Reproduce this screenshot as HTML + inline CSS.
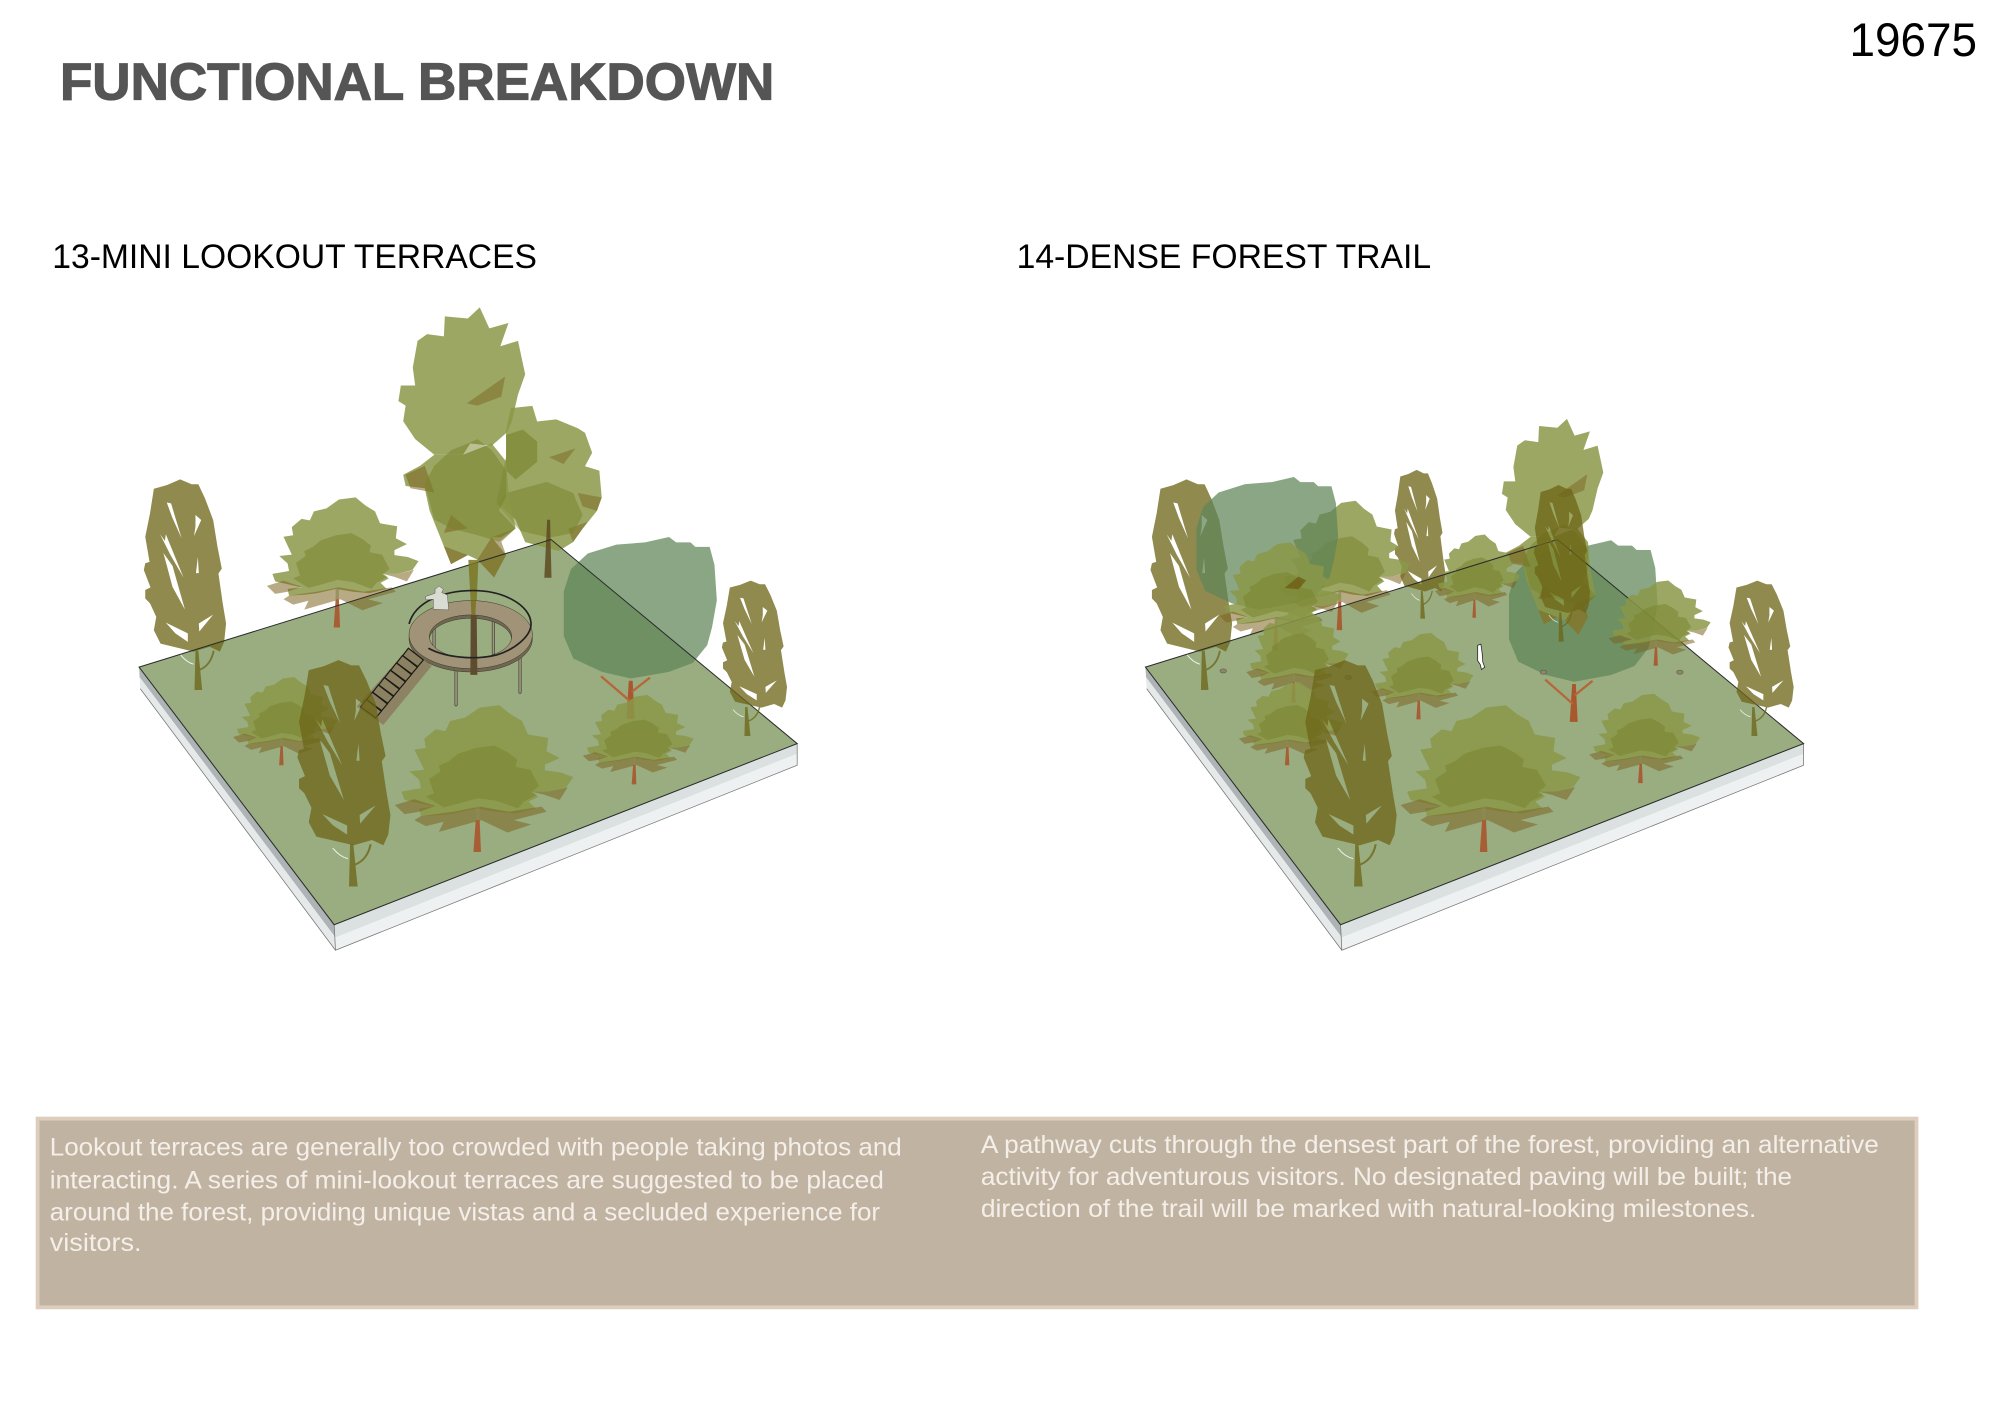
<!DOCTYPE html>
<html><head><meta charset="utf-8"><style>
html,body{margin:0;padding:0;background:#fff;width:2000px;height:1414px;overflow:hidden}
svg{display:block}
text{font-family:"Liberation Sans",sans-serif}
</style></head><body>
<svg xmlns="http://www.w3.org/2000/svg" width="2000" height="1414" viewBox="0 0 1568 1108.600" preserveAspectRatio="none">
<defs>
<path id="popc" opacity=".76" fill="#6d6518" fill-rule="evenodd" d="M-38-472L-14-461 0-461 14-429 31-381 40-321 49-272 42-261 51-194 58-149 54-108 45-86 24-97-10-86-52-97-79-104-93-134-88-164-101-194-111-205-111-224-100-230-114-269-111-284-102-287-111-343-101-396-93-451-66-459Z M-66-420L-57-418-35-340-54-385Z M-80-349L-70-334-68-349-31-252-58-302Z M-73-307L-54-278-28-180-54-231Z M-6-392L6-381-9-345-6-366Z M-1-298L1-262-5-262Z M-68-151L-22-127-22-108-48-127Z M31-169L2-131 1-149Z"/>
<g id="popt">
 <g opacity=".76">
 <path fill="#6d6518" d="M-8 0L8 0 0-88-6-88Z"/>
 <path d="M32-88Q26-55 2-45" fill="none" stroke="#6d6518" stroke-width="4"/>
 </g>
 <path d="M-38-80Q-25-62-10-58" fill="none" stroke="#fff" stroke-width="2" opacity=".85"/>
</g>
<g id="oak" transform="scale(.697,.746) translate(-292,-515)">
 <path fill="#8a9848" opacity=".85" d="M300 85L360 78 395 105 430 125 448 165 510 175 505 215 545 235 500 255 500 272 548 278 587 292 565 322 510 335 455 335 480 350 450 365 472 385 410 400 350 395 290 385 220 400 175 405 120 408 115 385 165 380 70 360 60 335 120 325 115 300 85 275 130 270 100 210 135 205 130 178 165 150 195 155 210 125 255 115Z"/>
 <path fill="#7b6520" opacity=".55" d="M40 375L100 358 165 378 115 395 70 402Z M100 420L120 408 220 395 300 380 390 395 490 380 505 395 405 420 458 433 385 457 305 420 175 455 190 425 135 438Z M570 322L545 360 500 345 458 335 510 335Z"/>
 <path fill="#778229" opacity=".5" d="M290 205L345 198 385 218 415 240 410 262 455 270 482 318 460 335 475 345 435 365 418 385 350 362 295 355 230 372 190 382 135 350 160 340 145 298 180 275 175 258 205 245 235 222Z"/>
 <path fill="#a9572e" opacity=".92" d="M281 515L304 515 300 420 288 420Z"/>
 <path fill="#8a8a50" opacity=".7" d="M288 420L300 420 300 380 288 380Z"/>
</g>
<g id="tall" transform="translate(-780,-885)">
 <path fill="#8a9848" opacity=".85" d="M795 65L815 112 855 100 838 152 875 140 890 215 875 260 862 320 852 345 820 375 775 370 760 395 700 395 660 360 635 320 640 285 625 275 630 240 660 240 655 200 665 140 685 125 720 130 722 85 770 90Z"/>
 <path fill="#7b6520" opacity=".5" d="M768 280L848 220 840 265 790 285Z"/>
 <path fill="#8a9848" opacity=".85" d="M700 395L760 395 820 370 850 410 855 480 870 560 840 580 820 580 850 620 825 670 790 630 770 620 735 640 720 600 690 520 680 470 640 465 635 440 670 420Z"/>
 <path fill="#7b6520" opacity=".55" d="M640 440L680 420 700 480 650 470Z M820 580L870 560 840 590 850 620 825 670 790 630Z M720 600L770 620 735 640Z M735 530L770 560 720 570Z"/>
 <path fill="#778229" opacity=".5" d="M770 370L790 360 820 385 850 430 850 490 835 520 870 560 835 590 790 575 735 560 700 540 680 460 700 420 735 385Z"/>
</g>
<g id="tall2" transform="translate(-940,-670)">
 <path fill="#8a9848" opacity=".85" d="M860 290L905 285 915 320 955 315 1000 335 1015 345 1030 390 1015 420 1045 430 1050 490 1040 520 1010 560 990 590 960 610 925 600 890 590 870 540 830 500 850 400 850 340Z"/>
 <path fill="#7b6520" opacity=".5" d="M1000 480L1050 490 1040 520 1010 510Z M940 400L995 380 970 415Z M980 560L1020 545 990 590Z"/>
 <path fill="#778229" opacity=".5" d="M935 455L990 480 1010 530 990 570 940 580 880 565 830 505 850 480Z"/>
 <path fill="#778229" opacity=".6" d="M850 350L885 338 915 365 915 410 870 450 850 430Z"/>
 <path fill="#5d4a20" d="M930 670L945 670 942 540 936 540Z" opacity=".85"/>
</g>
<path id="bushc" transform="translate(-1110,-945)" fill="#5f8558" opacity=".73" d="M1190 578L1205 590 1235 590 1245 600 1275 600 1285 640 1290 720 1280 780 1270 820 1240 860 1190 880 1110 895 1050 880 990 850 970 800 970 700 985 650 1020 615 1080 595 1140 590Z"/>
<g id="busht" transform="translate(-1110,-945)">
 <path fill="#a9572e" d="M1101 985L1118 985 1114 900 1106 900Z"/>
 <path fill="none" stroke="#b5673a" stroke-width="5" d="M1108 945L1048 890M1112 925L1150 893"/>
</g>
</defs>

<text x="47" y="78" font-size="41" font-weight="700" fill="#555" stroke="#555" stroke-width=".9" textLength="560" lengthAdjust="spacingAndGlyphs">FUNCTIONAL BREAKDOWN</text>
<text x="1450" y="44" font-size="37" fill="#000" textLength="100" lengthAdjust="spacingAndGlyphs">19675</text>
<text x="41" y="210" font-size="26.500" fill="#000" textLength="380" lengthAdjust="spacingAndGlyphs">13-MINI LOOKOUT TERRACES</text>
<text x="797" y="210" font-size="26.500" fill="#000" textLength="325" lengthAdjust="spacingAndGlyphs">14-DENSE FOREST TRAIL</text>

<!-- LEFT -->
<g>
 <polygon points="109,523 262,725 263,735 109.500,531" fill="#aeb3b5"/>
 <polygon points="109.500,531 263,735 263,745 110,540" fill="#e6e9e9"/>
 <polygon points="262,725 625,583 625,591 263,735" fill="#dbe1e0"/>
 <polygon points="263,735 625,591 625,600 263,745" fill="#eef1f1"/>
 <path d="M110 540L263 745 625 600 625 583M262 725L263 745" fill="none" stroke="#777" stroke-width=".6"/>
 <polygon points="109,523 432,423 625,583 262,725" fill="#99ad80"/>
 <use href="#busht" transform="translate(494.500,549.500) scale(.375,.35)"/>
 <use href="#bushc" transform="translate(494.500,549.500) scale(.375,.35)"/>
 <use href="#tall2" transform="translate(430.500,453) scale(.375,.35)"/>
 <use href="#tall" transform="translate(370.500,528) scale(.375,.35)"/>
 <use href="#oak" transform="translate(264,492) scale(.312,.313)"/>
 <use href="#popt" transform="translate(155.500,541) scale(.375,.35)"/>
 <use href="#popc" transform="translate(155.500,541) scale(.375,.35)"/>
 <path d="M109 523L432 423 625 583 262 725Z" fill="none" stroke="#2a2a2a" stroke-width=".8"/>
 <g transform="translate(266.600,439) scale(.2613)">
  <g fill="none" stroke-linecap="round">
   <path d="M282 190V265M460 170V280M348 320V435M540 290V397" stroke="#3b3b33" stroke-width="9"/>
   <path d="M282 190V265M460 170V280M348 320V435M540 290V397" stroke="#a29a80" stroke-width="5"/>
  </g>
  <path d="M385 0H415L407 200H396Z" fill="#7b7522" opacity=".85"/>
  <path fill="#6f6752" stroke="#3a3628" stroke-width="1.500" fill-rule="evenodd" d="M392 132C290 132 207 178 207 236 207 292 290 336 392 336 494 336 577 292 577 236 577 178 494 132 392 132ZM392 175C324 175 268 204 268 240 268 276 324 305 392 305 460 305 515 276 515 240 515 204 460 175 392 175Z"/>
  <path fill="#a09377" stroke="#3a3628" stroke-width="1.500" fill-rule="evenodd" d="M392 122C290 122 207 168 207 224 207 280 290 326 392 326 494 326 577 280 577 224 577 168 494 122 392 122ZM392 165C324 165 268 194 268 230 268 266 324 295 392 295 460 295 515 266 515 230 515 194 460 165 392 165Z"/>
  <path d="M392 165H410L412 345H391Z" fill="#5e4c30"/>
  <path d="M392 122H408L406 165H394Z" fill="#7b7522" opacity=".9"/>
  <path d="M207 192C225 125 310 92 400 92 490 92 570 135 573 190 575 230 520 270 470 285 410 300 320 295 265 265" fill="none" stroke="#222" stroke-width="5"/>
  <polygon points="205,265 275,318 130,495 50,440" fill="#8d8263"/>
  <g fill="#8c8062" stroke="#1a1a14" stroke-width="3.500">
   <polygon points="205,265 250,300 233,320 188,287"/>
   <polygon points="187,287 232,322 215,342 170,309"/>
   <polygon points="169,309 214,344 197,364 152,331"/>
   <polygon points="151,331 196,366 179,386 134,353"/>
   <polygon points="133,353 178,388 161,408 116,375"/>
   <polygon points="115,375 160,410 143,430 98,397"/>
   <polygon points="97,397 142,432 125,452 80,419"/>
   <polygon points="79,419 124,454 107,474 62,441"/>
  </g>
  <path d="M256 110L285 100 285 88 297 78 310 88 305 98 322 105 326 150 280 148 280 118 258 120Z" fill="#d9dcd2" stroke="#55584f" stroke-width="1.500"/>
 </g>
 <use href="#oak" transform="translate(220.500,600) scale(.215,.212)"/>
 <use href="#popt" transform="translate(277,695) scale(.424,.376)"/>
 <use href="#popc" transform="translate(281.500,695) scale(.424,.376)"/>
 <use href="#oak" transform="translate(374,668) scale(.367,.353)"/>
 <use href="#oak" transform="translate(497,615) scale(.228,.215)"/>
 <use href="#popt" transform="translate(586,577) scale(.297,.258)"/>
 <use href="#popc" transform="translate(599.800,577) scale(.297,.258)"/>
</g>

<!-- RIGHT -->
<g>
 <polygon points="898,523 1051,725 1052,735 898.500,531" fill="#aeb3b5"/>
 <polygon points="898.500,531 1052,735 1052,745 899,540" fill="#e6e9e9"/>
 <polygon points="1051,725 1414,583 1414,591 1052,735" fill="#dbe1e0"/>
 <polygon points="1052,735 1414,591 1414,600 1052,745" fill="#eef1f1"/>
 <path d="M899 540L1052 745 1414 600 1414 583M1051 725L1052 745" fill="none" stroke="#777" stroke-width=".6"/>
 <polygon points="898,523 1221,423 1414,583 1051,725" fill="#99ad80"/>
 <use href="#busht" transform="translate(1234,552) scale(.364,.35)"/>
 <use href="#bushc" transform="translate(1234,552) scale(.364,.35)"/>
 <use href="#tall" transform="translate(1224,558) scale(.3,.28)"/>
 <use href="#popt" transform="translate(1115.400,485) scale(.233,.247)"/>
 <use href="#popc" transform="translate(1119.500,485) scale(.233,.247)"/>
 <use href="#oak" transform="translate(1155.700,484.300) scale(.175,.2)"/>
 <use href="#oak" transform="translate(1050,494) scale(.27,.311)"/>
 <use href="#popt" transform="translate(944.500,541) scale(.372,.35)"/>
 <use href="#popc" transform="translate(944.400,541) scale(.372,.35)"/>
 <use href="#bushc" transform="translate(986.600,494.400) scale(.347,.328)"/>
 <use href="#oak" transform="translate(1000,510) scale(.25,.26)"/>
 <path d="M1007 461L1018 452 1024 455 1018 462Z" fill="#6f5a14" opacity=".75"/>
 <path d="M898 523L1221 423 1414 583 1051 725Z" fill="none" stroke="#2a2a2a" stroke-width=".8"/>
 <use href="#oak" transform="translate(1014,551) scale(.21,.23)"/>
 <use href="#popt" transform="translate(1224,503) scale(.256,.26)"/>
 <use href="#popc" transform="translate(1231.700,503) scale(.256,.26)"/>
 <use href="#oak" transform="translate(1298,522) scale(.21,.205)"/>
 <g fill="#8f8668" stroke="#555" stroke-width=".4"><ellipse cx="959" cy="526" rx="2.600" ry="1.600"/><ellipse cx="1057" cy="531" rx="2.600" ry="1.600"/><ellipse cx="1210" cy="527" rx="2.600" ry="1.600"/><ellipse cx="1317" cy="527" rx="2.600" ry="1.600"/></g>
 <path d="M1158.500 506L1161 505 1162 512 1162.500 519 1164 523 1161.500 525 1160.500 521 1158.500 518Z" fill="#fff" stroke="#222" stroke-width=".6"/>
 <use href="#oak" transform="translate(1009,600) scale(.215,.2)"/>
 <use href="#oak" transform="translate(1112,564) scale(.21,.208)"/>
 <use href="#popt" transform="translate(1065,695) scale(.424,.376)"/>
 <use href="#popc" transform="translate(1070.400,695) scale(.424,.376)"/>
 <use href="#oak" transform="translate(1163,668) scale(.37,.353)"/>
 <use href="#oak" transform="translate(1286,614) scale(.228,.215)"/>
 <use href="#popt" transform="translate(1375.500,577) scale(.297,.258)"/>
 <use href="#popc" transform="translate(1389,577) scale(.297,.258)"/>
</g>

<!-- TEXT BOX -->
<rect x="29.500" y="877" width="1473" height="148" fill="#c1b3a2" stroke="#dccdbc" stroke-width="3"/>
<g fill="#f4efe8" font-size="19.500">
 <text x="39" y="906" textLength="668" lengthAdjust="spacingAndGlyphs">Lookout terraces are generally too crowded with people taking photos and</text>
 <text x="39" y="932" textLength="654" lengthAdjust="spacingAndGlyphs">interacting. A series of mini-lookout terraces are suggested to be placed</text>
 <text x="39" y="957" textLength="651" lengthAdjust="spacingAndGlyphs">around the forest, providing unique vistas and a secluded experience for</text>
 <text x="39" y="981" textLength="72" lengthAdjust="spacingAndGlyphs">visitors.</text>
 <text x="769" y="904" textLength="704" lengthAdjust="spacingAndGlyphs">A pathway cuts through the densest part of the forest, providing an alternative</text>
 <text x="769" y="929" textLength="636" lengthAdjust="spacingAndGlyphs">activity for adventurous visitors. No designated paving will be built; the</text>
 <text x="769" y="954" textLength="608" lengthAdjust="spacingAndGlyphs">direction of the trail will be marked with natural-looking milestones.</text>
</g>
</svg>
</body></html>
